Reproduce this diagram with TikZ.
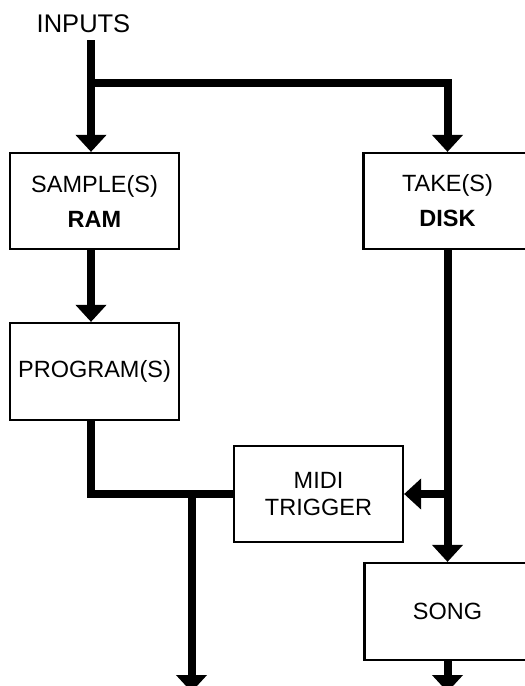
\documentclass[tikz,border=0pt]{standalone}
\usepackage{fontspec}
\setmainfont{Liberation Sans}
\usetikzlibrary{arrows.meta}
\tikzset{
  box/.style={draw, line width=2.2pt, fill=white, inner sep=0pt, align=center, font=\fontsize{23.5}{35}\selectfont},
  wire/.style={line width=8pt},
  flow/.style={wire, -{Triangle[width=30pt,length=17pt]}}
}
\begin{document}
\begin{tikzpicture}[x=1pt,y=-1pt]
\useasboundingbox (0,0) rectangle (525,686);
\clip (0,0) rectangle (525,686);
\node[font=\fontsize{25.5}{30}\selectfont] (inputs) at (83.5,24) {INPUTS};
\node[box, minimum width=169pt, minimum height=96pt] (ram) at (94.5,201) {SAMPLE(S)\\\textbf{RAM}};
\node[box, minimum width=168pt, minimum height=96pt] (disk) at (447.5,201) {TAKE(S)\\\textbf{DISK}};
\node[box, minimum width=169pt, minimum height=97pt] (prog) at (94.5,371.5) {PROGRAM(S)};
\node[box, minimum width=169pt, minimum height=96pt, font=\fontsize{23.5}{27}\selectfont] (midi) at (318.5,494) {MIDI\\TRIGGER};
\node[box, minimum width=166pt, minimum height=97pt] (song) at (447.5,611.5) {SONG};
\coordinate (a0) at (91,40);
\coordinate (a1) at (91,83);
\coordinate (b0) at (191.5,490);
\coordinate (out1) at (191.5,692);
\coordinate (out2) at (447.5,692);
\draw[flow] (a0) -- (a0 |- ram.north);
\draw[flow] (a1) -| (disk.north);
\draw[flow] (ram.south -| a0) -- (prog.north -| a0);
\draw[wire] (prog.south -| a0) |- (midi.west);
\draw[flow] (b0) -- (out1);
\draw[flow] (disk.south) -- (song.north);
\draw[flow] (disk.south |- midi.east) -- (midi.east);
\draw[flow] (song.south) -- (out2);
\end{tikzpicture}
\end{document}
